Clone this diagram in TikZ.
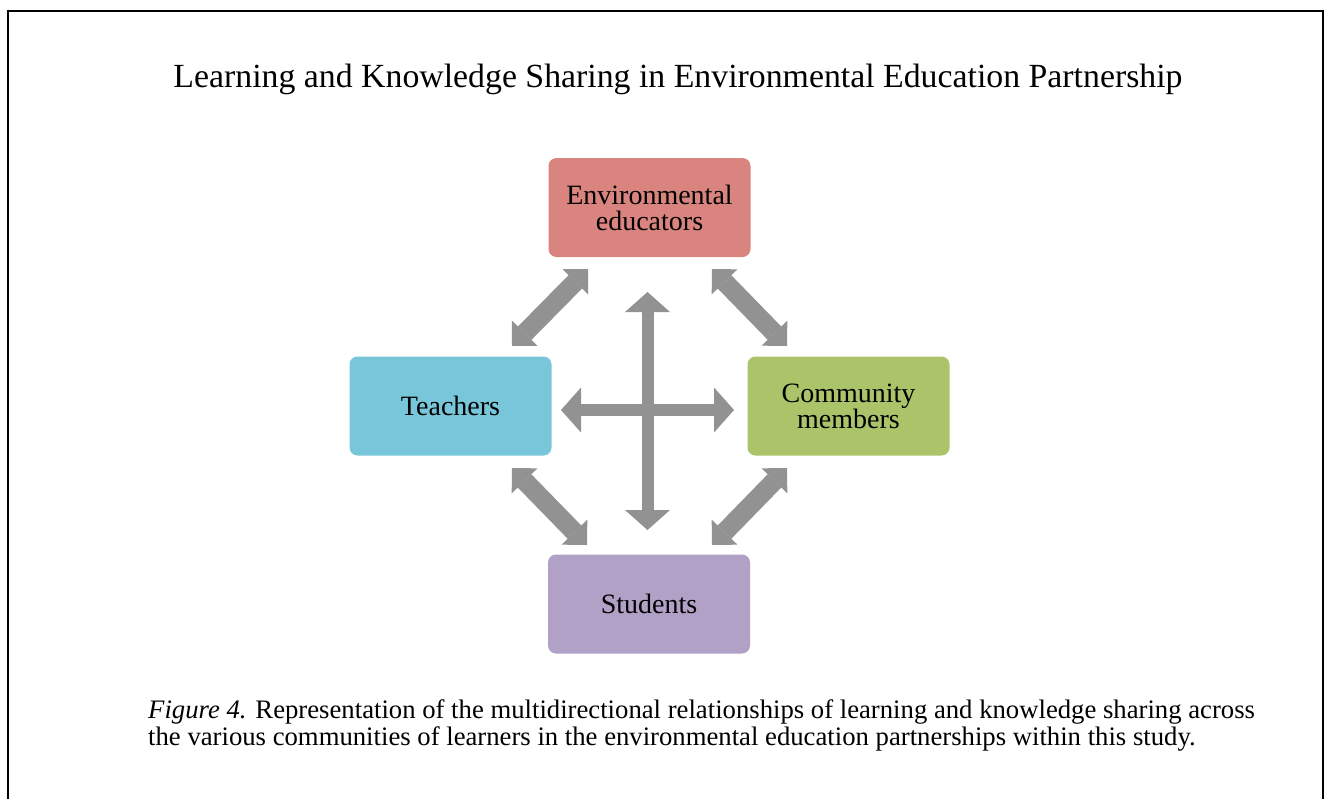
\documentclass[tikz,border=0pt]{standalone}
\usepackage{fontspec}
\setmainfont{Liberation Serif}
\usetikzlibrary{arrows.meta}
\definecolor{envred}{RGB}{217,132,126}
\definecolor{teachblue}{RGB}{120,198,218}
\definecolor{commgreen}{RGB}{171,196,106}
\definecolor{studpurple}{RGB}{178,161,199}
\definecolor{arrowgray}{RGB}{146,146,146}
\tikzset{
  box/.style={rounded corners=8pt, minimum width=202pt, minimum height=99pt,
    inner sep=0pt, align=center, font=\fontsize{28}{26}\selectfont},
  crossarrow/.style={draw=arrowgray, line width=12pt,
    {Triangle[width=45pt,length=20pt,line width=0pt]}-{Triangle[width=45pt,length=20pt,line width=0pt]}},
  diagarrow/.style={draw=arrowgray, line width=19pt,
    {Triangle[width=36pt,length=18pt,line width=0pt]}-{Triangle[width=36pt,length=18pt,line width=0pt]}},
}
\begin{document}
\begin{tikzpicture}[x=1pt,y=-1pt]
\useasboundingbox (0,0) rectangle (1328,798);
% frame
\draw[line width=2pt, black] (8,800) -- (8,11) -- (1323,11) -- (1323,800);
% title
\node[anchor=base, inner sep=0pt, font=\fontsize{33.8}{38}\selectfont] (title) at (678,87)
  {Learning and Knowledge Sharing in Environmental Education Partnership};
% boxes
\node[box, fill=envred] (env) at (649.5,207.5) {Environmental\\educators};
\node[box, fill=teachblue] (teach) at (450.5,406) {Teachers};
\node[box, fill=commgreen] (comm) at (848.5,406) {Community\\members};
\node[box, fill=studpurple] (stud) at (649,604) {Students};
% arrow end points
\coordinate (vt) at (647.5,292);
\coordinate (vb) at (647.5,530);
\coordinate (hl) at (561,410);
\coordinate (hr) at (734,410);
\coordinate (tla) at (512,346);
\coordinate (tlb) at (588,269);
\coordinate (tra) at (712,269);
\coordinate (trb) at (787,346);
\coordinate (bla) at (512,468);
\coordinate (blb) at (587,545);
\coordinate (bra) at (787,468);
\coordinate (brb) at (712,545);
% arrows
\draw[crossarrow] (vt) -- (vb);
\draw[crossarrow] (hl) -- (hr);
\draw[diagarrow] (tla) -- (tlb);
\draw[diagarrow] (tra) -- (trb);
\draw[diagarrow] (bla) -- (blb);
\draw[diagarrow] (bra) -- (brb);
% caption
\node[anchor=base west, inner sep=0pt, align=left, font=\fontsize{26.7}{27}\selectfont] (caption) at (148,745)
  {\textit{Figure 4.} Representation of the multidirectional relationships of learning and knowledge sharing across\\
   the various communities of learners in the environmental education partnerships within this study.};
\end{tikzpicture}
\end{document}
